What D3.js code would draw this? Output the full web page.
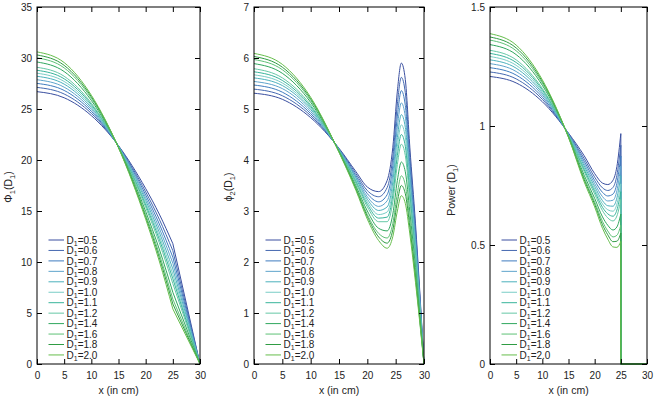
<!DOCTYPE html>
<html><head><meta charset="utf-8">
<script src="https://cdn.jsdelivr.net/npm/d3@7"></script>
<style>
body{margin:0;background:#fff}
text{font-family:"Liberation Sans",Arial,Helvetica,sans-serif;fill:#222}
</style>
</head><body>
<svg id="chart" width="658" height="398"></svg>
<script>
// ---------- data ----------
const dLabels = ["0.5","0.6","0.7","0.8","0.9","1.0","1.1","1.2","1.4","1.6","1.8","2.0"];
const colors = ["#3a4fa0","#4468b0","#3f7cbf","#5fa4cc","#4cb1bd","#79cdc6","#38b49b","#66c8a6","#2fa75d","#5ec176","#2f9c43","#66be4c"];
const xTicks = [0,5,10,15,20,25,30];

// Panel 1: phi1(D1)
const xPhi1 = [0,5,10,15,20,22.5,25,30];
const phi1 = [
  [26.7,26.1,24.35,21.4,17.2,14.7,11.8,0],
  [27.12,26.47,24.57,21.38,16.88,14.2,11.11,0],
  [27.51,26.82,24.77,21.36,16.58,13.74,10.47,0],
  [27.87,27.14,24.95,21.34,16.3,13.32,9.88,0],
  [28.21,27.44,25.13,21.32,16.04,12.92,9.32,0],
  [28.51,27.7,25.28,21.31,15.81,12.56,8.82,0],
  [28.8,27.96,25.43,21.29,15.59,12.23,8.36,0],
  [29.09,28.21,25.57,21.28,15.36,11.89,7.88,0],
  [29.61,28.67,25.84,21.25,14.96,11.27,7.03,0],
  [30.02,29.03,26.05,21.23,14.65,10.79,6.36,0],
  [30.3,29.28,26.2,21.22,14.43,10.45,5.89,0],
  [30.6,29.55,26.35,21.2,14.2,10.1,5.4,0]
];
const phi1Ticks = [0,5,10,15,20,25,30,35];

// Panel 2: phi2(D1)
const xPhi2 = [0,5,10,15,18,20,22,23.5,24.5,25.3,26,26.7,27.5,28.5,30];
const phi2 = [
  [5.31,5.19,4.83,4.23,3.77,3.47,3.38,3.60,4.25,5.35,5.90,5.58,4.25,2.75,0],
  [5.39,5.26,4.87,4.22,3.73,3.40,3.28,3.46,4.06,5.10,5.62,5.32,4.07,2.63,0],
  [5.47,5.33,4.91,4.21,3.69,3.34,3.18,3.32,3.89,4.86,5.36,5.07,3.90,2.51,0],
  [5.54,5.40,4.95,4.21,3.66,3.28,3.09,3.20,3.73,4.65,5.12,4.85,3.74,2.41,0],
  [5.61,5.46,4.99,4.20,3.63,3.23,3.01,3.08,3.57,4.44,4.89,4.64,3.59,2.30,0],
  [5.67,5.51,5.02,4.19,3.60,3.18,2.93,2.98,3.44,4.26,4.69,4.45,3.46,2.22,0],
  [5.73,5.56,5.05,4.19,3.57,3.13,2.86,2.88,3.31,4.09,4.50,4.27,3.34,2.13,0],
  [5.79,5.61,5.08,4.18,3.54,3.08,2.79,2.79,3.18,3.91,4.31,4.09,3.21,2.05,0],
  [5.89,5.70,5.13,4.17,3.49,3.00,2.66,2.61,2.94,3.60,3.96,3.77,2.98,1.89,0],
  [5.97,5.77,5.17,4.16,3.46,2.93,2.56,2.47,2.76,3.35,3.69,3.51,2.81,1.77,0],
  [6.03,5.82,5.20,4.16,3.43,2.89,2.49,2.37,2.63,3.18,3.50,3.34,2.68,1.69,0],
  [6.09,5.875,5.23,4.15,3.40,2.84,2.42,2.27,2.50,3.00,3.30,3.15,2.55,1.60,0]
];
const phi2Ticks = [0,1,2,3,4,5,6,7];

// Panel 3: Power(D1) in the core; zero in the reflector
const xPower = [0,5,10,15,18,20,21.5,22.5,23.5,24.25,25];
const power = [
  [1.208,1.181,1.102,0.970,0.875,0.800,0.760,0.754,0.772,0.830,0.968],
  [1.227,1.198,1.112,0.968,0.863,0.785,0.740,0.729,0.742,0.793,0.919],
  [1.245,1.214,1.121,0.966,0.852,0.771,0.721,0.706,0.714,0.759,0.874],
  [1.262,1.229,1.130,0.965,0.842,0.758,0.703,0.685,0.688,0.728,0.832],
  [1.278,1.243,1.138,0.963,0.832,0.746,0.686,0.665,0.663,0.698,0.792],
  [1.292,1.255,1.145,0.962,0.824,0.735,0.672,0.648,0.642,0.672,0.757],
  [1.305,1.267,1.152,0.960,0.816,0.725,0.658,0.631,0.621,0.647,0.724],
  [1.318,1.278,1.158,0.959,0.808,0.714,0.644,0.614,0.601,0.622,0.691],
  [1.342,1.300,1.171,0.957,0.793,0.696,0.618,0.583,0.563,0.576,0.630],
  [1.361,1.316,1.180,0.955,0.782,0.681,0.599,0.559,0.534,0.541,0.583],
  [1.374,1.328,1.187,0.953,0.774,0.671,0.585,0.543,0.514,0.516,0.550],
  [1.388,1.340,1.194,0.952,0.765,0.660,0.570,0.525,0.492,0.490,0.515]
];
const xPowerRefl = [25,30];
const powerRefl = [0,0];
const powerTicks = [0,0.5,1,1.5];

// ---------- drawing ----------
const svg = d3.select("#chart");
const TOP = 7, BOTTOM = 364;

function drawPanel(cfg){
  const x = d3.scaleLinear().domain([0,30]).range([cfg.left,cfg.right]);
  const y = d3.scaleLinear().domain([0,cfg.yMax]).range([BOTTOM,TOP]);
  const g = svg.append("g");
  const smooth = d3.line().x(d=>x(d[0])).y(d=>y(d[1])).curve(d3.curveMonotoneX);
  const straight = d3.line().x(d=>x(d[0])).y(d=>y(d[1]));

  cfg.series.forEach((vals,i)=>{
    const pts = cfg.xs.map((xv,j)=>[xv,vals[j]]);
    let core = pts, refl = null;
    if (cfg.kind === "phi1") {
      core = pts.filter(p=>p[0] <= 25);
      refl = pts.filter(p=>p[0] >= 25);
    } else if (cfg.kind === "power") {
      const last = pts[pts.length-1];
      refl = [last].concat(xPowerRefl.map((xv,j)=>[xv,powerRefl[j]]));
    }
    g.append("path").attr("d",smooth(core)).attr("fill","none")
      .attr("stroke",colors[i]).attr("stroke-width",1);
    if (refl) g.append("path").attr("d",straight(refl)).attr("fill","none")
      .attr("stroke",colors[i]).attr("stroke-width",1);
  });

  // axes (inward ticks on all sides)
  const fmt = d=>String(d);
  const ax = g.append("g").attr("font-size",10.5);
  ax.append("g").attr("transform",`translate(0,${BOTTOM})`)
    .call(d3.axisBottom(x).tickValues(xTicks).tickSizeInner(-5).tickSizeOuter(0).tickPadding(8).tickFormat(fmt));
  ax.append("g").attr("transform",`translate(0,${TOP})`)
    .call(d3.axisTop(x).tickValues(xTicks).tickSizeInner(-5).tickSizeOuter(0).tickFormat(""));
  ax.append("g").attr("transform",`translate(${cfg.left},0)`)
    .call(d3.axisLeft(y).tickValues(cfg.yTicks).tickSizeInner(-5).tickSizeOuter(0).tickPadding(5).tickFormat(fmt));
  ax.append("g").attr("transform",`translate(${cfg.right},0)`)
    .call(d3.axisRight(y).tickValues(cfg.yTicks).tickSizeInner(-5).tickSizeOuter(0).tickFormat(""));
  ax.selectAll(".domain").remove();
  ax.selectAll(".tick line").attr("stroke","#000");
  ax.selectAll(".tick text").attr("fill","#222").attr("font-family","Liberation Sans, Arial, sans-serif");

  g.append("rect").attr("x",cfg.left).attr("y",TOP)
    .attr("width",cfg.right-cfg.left).attr("height",BOTTOM-TOP)
    .attr("fill","none").attr("stroke","#000").attr("stroke-width",1);

  // x label
  g.append("text").attr("x",(cfg.left+cfg.right)/2).attr("y",394)
    .attr("text-anchor","middle").attr("font-size",10.5).text("x (in cm)");

  // y label (rotated, with subscripts)
  const yl = g.append("text")
    .attr("transform",`translate(${cfg.ylx},${cfg.yly}) rotate(-90)`)
    .attr("text-anchor","middle").attr("font-size",10.5);
  cfg.ylabel.forEach(part=>{
    const t = yl.append("tspan").text(part.t);
    if (part.sub) t.attr("font-size",7.5).attr("dy",2.5);
    if (part.up) t.attr("dy",-2.5);
  });

  // legend
  const lg = g.append("g");
  dLabels.forEach((lab,i)=>{
    const ry = 240 + i*10.45;
    lg.append("line").attr("x1",cfg.left+11.5).attr("x2",cfg.left+27)
      .attr("y1",ry).attr("y2",ry).attr("stroke",colors[i]).attr("stroke-width",1);
    const t = lg.append("text").attr("x",cfg.left+29.5).attr("y",ry+3.6).attr("font-size",10);
    t.append("tspan").text("D");
    t.append("tspan").attr("font-size",7).attr("dy",2).text("1");
    t.append("tspan").attr("dy",-2).text("=" + lab);
  });
}

drawPanel({kind:"phi1", left:37, right:200, yMax:35, yTicks:phi1Ticks, xs:xPhi1, series:phi1,
  ylx:12, yly:187, ylabel:[{t:"Φ"},{t:"1",sub:true},{t:"(D",up:true},{t:"1",sub:true},{t:")",up:true}]});
drawPanel({kind:"phi2", left:254, right:424, yMax:7, yTicks:phi2Ticks, xs:xPhi2, series:phi2,
  ylx:232, yly:187, ylabel:[{t:"ϕ"},{t:"2",sub:true},{t:"(D",up:true},{t:"1",sub:true},{t:")",up:true}]});
drawPanel({kind:"power", left:490, right:647, yMax:1.5, yTicks:powerTicks, xs:xPower, series:power,
  ylx:455, yly:190, ylabel:[{t:"Power (D"},{t:"1",sub:true},{t:")",up:true}]});
</script>
</body></html>
